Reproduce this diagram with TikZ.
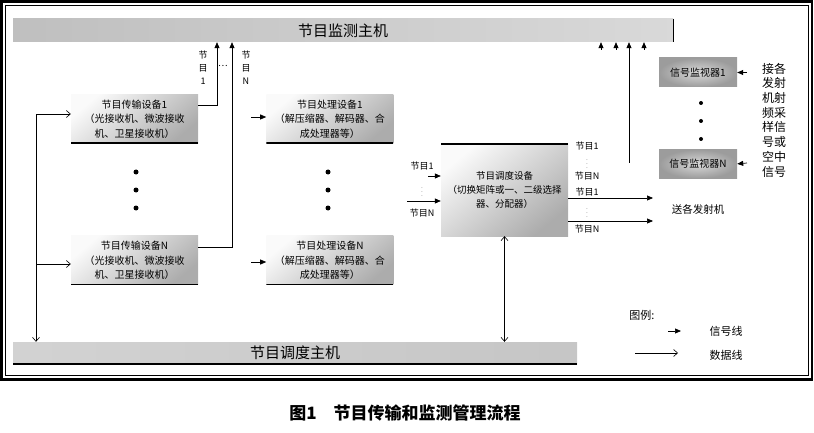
\documentclass[tikz,border=0pt]{standalone}
\usepackage{fontspec}
\setmainfont{Noto Sans CJK SC}
\usetikzlibrary{arrows.meta, positioning}
\tikzset{
  box/.style={
    rectangle,
    minimum width=127pt,
    minimum height=49pt,
    inner sep=1pt,
    align=center,
    top color=gray!4,
    bottom color=gray!65,
    shading angle=40,
    font=\fontsize{10}{14.5}\selectfont
  },
  bottomrule/.style={
    path picture={\draw[line width=2pt] (path picture bounding box.south west) -- (path picture bounding box.south east);}
  },
  toprule/.style={
    path picture={\draw[line width=2pt] (path picture bounding box.north west) -- (path picture bounding box.north east);}
  },
  hostbar/.style={
    rectangle,
    minimum height=23pt,
    inner sep=0pt,
    font=\fontsize{15}{15}\selectfont
  },
  monitor/.style={
    rectangle,
    minimum width=78pt,
    minimum height=29pt,
    inner sep=0pt,
    inner color=gray!30,
    outer color=gray!78,
    font=\fontsize{10}{12}\selectfont
  },
  bigdot/.style={circle, fill=black, inner sep=0pt, minimum size=5pt},
  vlabel/.style={align=center, inner sep=0pt, font=\fontsize{9}{13}\selectfont},
  smalltext/.style={inner sep=0pt, font=\fontsize{9}{10}\selectfont},
  vdotsmark/.style={inner sep=0pt, font=\fontsize{5}{6}\selectfont},
  legtext/.style={inner sep=0pt, font=\fontsize{11}{12}\selectfont},
  signal/.style={
    -{Triangle[length=6pt,width=5pt]},
    line width=0.7pt
  },
  dataline/.style={
    -{Straight Barb[length=4pt,width=7pt]},
    line width=0.6pt
  },
  databoth/.style={
    {Straight Barb[length=4pt,width=7pt]}-{Straight Barb[length=4pt,width=7pt]},
    line width=0.6pt
  }
}

\begin{document}
\begin{tikzpicture}[x=1pt, y=-1pt]
\useasboundingbox (0,0) rectangle (814,433);

% Frame
\draw[line width=2.5pt] (1.5,1.5) rectangle (812,379.5);
\draw[line width=0.7pt] (5.5,5.5) rectangle (808,375.5);

% Host bars
\node[hostbar, minimum width=660pt, left color=gray!50, middle color=gray!6, right color=gray!30] (mhost) at (343,30.5) {节目监测主机};
\draw[line width=1pt] (mhost.north east) -- (mhost.south east);

\node[hostbar, bottomrule, minimum width=564pt, minimum height=22pt, left color=gray!35, middle color=gray!4, right color=gray!45] (dhost) at (295,353) {节目调度主机};

% Nodes
\node[box, bottomrule] (trans1) at (134.5,119) {节目传输设备1\\（光接收机、微波接收\\机、卫星接收机）};
\node[box, bottomrule, below=92pt of trans1] (transN) {节目传输设备N\\（光接收机、微波接收\\机、卫星接收机）};

\node[box, bottomrule, right=68pt of trans1] (proc1) {节目处理设备1\\（解压缩器、解码器、合\\成处理器等）};
\node[box, bottomrule, below=92pt of proc1] (procN) {节目处理设备N\\（解压缩器、解码器、合\\成处理器等）};

\node[box, toprule, minimum height=92pt, font=\fontsize{9.5}{14}\selectfont] (sched) at (504.5,190) {节目调度设备\\（切换矩阵或一、二级选择\\器、分配器）};

\node[monitor] (mon1) at (698,72.5) {信号监视器1};
\node[monitor, below=62pt of mon1] (monN) {信号监视器N};

% Dots
\node[bigdot] (ldot1) at (136,172) {};
\node[bigdot] (ldot2) at (136,190) {};
\node[bigdot] (ldot3) at (136,208) {};
\node[bigdot] (mdot1) at (328,172) {};
\node[bigdot] (mdot2) at (328,190) {};
\node[bigdot] (mdot3) at (328,208) {};
\node[bigdot, minimum size=4pt] (rdot1) at (701,103) {};
\node[bigdot, minimum size=4pt] (rdot2) at (701,121) {};
\node[bigdot, minimum size=4pt] (rdot3) at (701,139) {};

% Labels
\node[vlabel] (lab1) at (203,68) {节\\目\\1};
\node[smalltext] (labdots) at (223,66) {…};
\node[vlabel] (labN) at (246,68) {节\\目\\N};

\node[smalltext] (in1) at (422,166) {节目1};
\node[vdotsmark] (indots) at (422,189.5) {$\vdots$};
\node[smalltext] (inN) at (422,213) {节目N};

\node[smalltext] (outa1) at (587,146) {节目1};
\node[vdotsmark] (outadots) at (587,161) {$\vdots$};
\node[smalltext] (outaN) at (587,176) {节目N};
\node[smalltext] (outb1) at (587,192) {节目1};
\node[vdotsmark] (outbdots) at (587,210) {$\vdots$};
\node[smalltext] (outbN) at (587,229) {节目N};

\node[align=center, inner sep=0pt, font=\fontsize{12}{14.7}\selectfont] (rfsrc) at (774,120) {接各\\发射\\机射\\频采\\样信\\号或\\空中\\信号};
\node[inner sep=0pt, font=\fontsize{10.5}{12}\selectfont] (txall) at (698,209) {送各发射机};

% Signal lines
\coordinate (up1) at (217,105);
\coordinate (upN) at (232,247);
\draw[signal] (trans1.east |- up1) -- (up1) -- (up1 |- mhost.south);
\draw[signal] (transN.east |- upN) -- (upN) -- (upN |- mhost.south);

\coordinate (p1in) at (251,117);
\coordinate (pNin) at (251,262);
\draw[signal] (p1in) -- (p1in -| proc1.west);
\draw[signal] (pNin) -- (pNin -| procN.west);

\coordinate (sin1) at (428,176);
\coordinate (sinN) at (407,201);
\draw[signal] (sin1) -- (sin1 -| sched.west);
\draw[signal] (sinN) -- (sinN -| sched.west);

\coordinate (tx1) at (653,198);
\coordinate (txN) at (653,221);
\draw[signal] (sched.east |- tx1) -- (tx1);
\draw[signal] (sched.east |- txN) -- (txN);

\coordinate (ma) at (601,50);
\coordinate (mb) at (616,50);
\coordinate (mup) at (629,163);
\coordinate (md) at (644,50);
\draw[signal] (ma) -- (ma |- mhost.south);
\draw[signal] (mb) -- (mb |- mhost.south);
\draw[signal] (mup) -- (mup |- mhost.south);
\draw[signal] (md) -- (md |- mhost.south);

\coordinate (r1) at (747,72.5);
\coordinate (rN) at (747,163);
\draw[signal] (r1) -- (mon1.east);
\draw[signal] (rN) -- (monN.east);

% Data lines
\coordinate (ltap) at (36,264);
\coordinate (ltop) at (36,114);
\draw[databoth] (dhost.north -| ltap) |- (ltop -| trans1.west);
\draw[dataline] (ltap) -- (ltap -| transN.west);
\draw[databoth] (dhost.north -| sched.south) -- (sched.south);

% Legend
\node[legtext] (legtitle) at (642,315) {图例:};
\coordinate (lsa) at (668,331);
\coordinate (lsb) at (681,331);
\draw[signal] (lsa) -- (lsb);
\node[legtext] (legsig) at (726,331) {信号线};
\coordinate (lda) at (635,353);
\coordinate (ldb) at (678,353);
\draw[dataline] (lda) -- (ldb);
\node[legtext] (legdat) at (726,355) {数据线};

% Caption
\node[inner sep=0pt, font=\fontsize{17}{17}\selectfont\bfseries] (caption) at (405,413) {图1\quad 节目传输和监测管理流程};

\end{tikzpicture}
\end{document}
